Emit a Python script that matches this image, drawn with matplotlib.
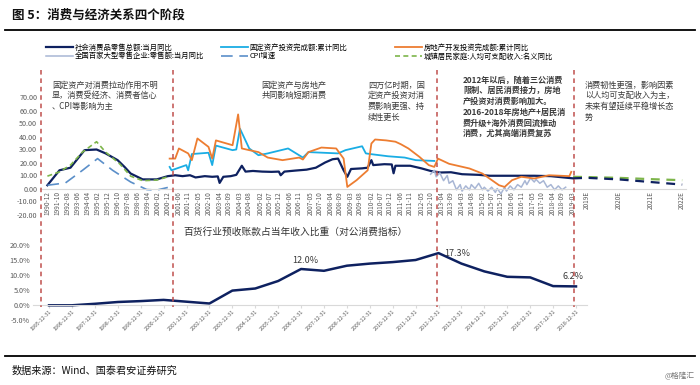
import numpy as np
import matplotlib
matplotlib.use("Agg")
import matplotlib.pyplot as plt
from matplotlib.lines import Line2D

plt.rcParams['font.family'] = ['Noto Sans CJK SC', 'DejaVu Sans']
plt.rcParams['axes.unicode_minus'] = False

# ---- data: top panel (month labels "YYYY-MM", forecast "YYYYE") ----
retail_m = ["1990-12", "1991-12", "1992-11", "1994-01", "1995-01", "1995-10", "1996-10",
            "1997-05", "1997-11", "1998-11", "2000-01", "2000-12",
            "2001-04", "2001-08", "2001-12", "2002-03", "2002-08", "2002-12", "2003-03",
            "2003-04", "2003-06", "2003-10", "2004-01", "2004-04", "2004-06", "2004-10",
            "2005-03", "2005-08", "2005-12", "2006-01", "2006-03", "2006-09", "2007-03",
            "2007-08", "2008-01", "2008-05", "2008-08", "2008-11", "2009-01", "2009-03",
            "2009-09", "2009-12", "2010-02", "2010-03", "2010-09", "2011-01", "2011-02",
            "2011-03", "2011-11", "2012-05", "2012-10", "2013-03", "2013-09", "2014-03",
            "2014-12", "2015-06", "2016-06", "2017-06", "2018-03", "2018-10", "2019-03"]
retail_v = [2.5, 14.0, 16.0, 29.5, 30.0, 27.0, 21.8, 16.5, 11.5, 7.0, 7.0, 9.5,
            10.2, 9.5, 10.2, 8.5, 9.5, 9.0, 9.3, 4.3, 9.0, 9.5, 10.5, 17.5, 13.0, 13.5,
            13.0, 12.8, 13.0, 10.2, 13.0, 13.8, 14.5, 16.0, 20.0, 22.5, 23.0, 14.0, 9.0,
            15.0, 15.5, 16.0, 21.8, 18.0, 18.7, 18.5, 11.7, 17.5, 17.5, 15.5, 13.5, 12.3,
            12.5, 11.0, 10.5, 9.8, 9.8, 9.8, 9.5, 8.5, 7.8]

retail_fc_m = ["2019-03", "2019E", "2020E", "2021E", "2022E"]
retail_fc_v = [7.8, 8.2, 7.0, 5.0, 3.0]

dept_m = ["2012-10", "2012-12", "2013-01", "2013-03", "2013-05", "2013-07", "2013-08",
          "2013-10", "2013-12", "2014-02", "2014-03", "2014-05", "2014-07", "2014-08",
          "2014-10", "2014-12", "2015-02", "2015-03", "2015-05", "2015-07", "2015-09",
          "2015-10", "2015-12", "2016-02", "2016-03", "2016-05", "2016-07", "2016-09",
          "2016-11", "2017-01", "2017-02", "2017-04", "2017-06", "2017-07", "2017-09",
          "2017-11", "2018-01", "2018-03", "2018-05", "2018-07", "2018-09", "2018-11"]
dept_v = [11, 14, 9, 12, 6, 10, 4, 6, -1, 3, -2, 2, -1, 3, 0, 4, -1, 1, -2, 1, -3,
          0, -4, 1, -2, 2, -1, 3, 1, 6, 3, 8, 5, 7, 4, 6, 1, 3, -1, 2, -1, 1]

fai_m = ["2001-01", "2001-02", "2001-10", "2001-11", "2002-01", "2002-10", "2002-12",
         "2003-02", "2003-11", "2004-01", "2004-03", "2004-08", "2005-01", "2005-06",
         "2006-05", "2007-01", "2007-04", "2008-08", "2008-12", "2009-09", "2009-11",
         "2010-02", "2010-11", "2011-08", "2012-02", "2012-12"]
fai_v = [16.6, 14.0, 18.0, 14.0, 26.5, 27.5, 18.0, 33.0, 29.5, 30.0, 46.0, 30.8,
         25.6, 27.0, 30.8, 23.8, 28.0, 27.0, 29.5, 32.5, 27.0, 26.4, 24.8, 23.8,
         21.8, 21.2]

cpi_m = ["1990-12", "1992-06", "1993-11", "1995-02", "1996-05", "1997-11", "1999-03",
         "2000-01", "2000-12"]
cpi_v = [2.5, 4.3, 14.0, 23.0, 14.0, 5.0, -0.8, -1.2, 0.8]

estate_m = ["2001-01", "2001-04", "2001-06", "2001-11", "2002-01", "2002-04", "2002-10",
            "2002-12", "2003-02", "2003-11", "2004-02", "2004-04", "2004-08", "2005-01",
            "2005-06", "2006-02", "2006-11", "2007-01", "2007-04", "2007-11", "2008-07",
            "2008-11", "2009-01", "2009-06", "2009-12", "2010-02", "2010-04", "2010-10",
            "2011-03", "2011-06", "2011-10", "2012-04", "2012-09", "2012-12", "2013-02",
            "2013-08", "2014-07", "2015-02", "2015-11", "2016-02", "2016-06", "2016-11",
            "2017-06", "2018-02", "2019-01", "2019-02"]
estate_v = [23.0, 23.0, 30.8, 27.0, 21.8, 38.5, 32.0, 23.0, 37.0, 33.3, 57.0, 30.8,
            29.5, 28.0, 23.8, 21.8, 23.8, 22.3, 28.0, 31.5, 30.8, 23.0, 1.2, 6.4, 14.0,
            34.6, 37.7, 37.0, 36.0, 34.0, 30.8, 24.3, 18.0, 16.6, 23.0, 19.0, 15.4, 11.5,
            2.5, 1.2, 6.4, 9.0, 7.7, 10.2, 9.5, 12.8]

income_m = ["1990-12", "1991-12", "1992-11", "1993-11", "1995-01", "1995-10", "1996-12",
            "1997-11", "1998-11", "2000-01", "2000-12"]
income_v = [9.5, 12.8, 18.0, 28.0, 36.0, 28.0, 19.0, 9.5, 6.0, 6.5, 9.0]

income_fc_m = ["2019-03", "2019E", "2020E", "2021E", "2022E"]
income_fc_v = [9.0, 8.8, 8.2, 7.2, 6.4]

top_ticks = ["1990-12", "1991-10", "1992-08", "1993-06", "1994-04", "1995-02", "1995-12",
             "1996-10", "1997-08", "1998-06", "1999-04", "2000-02", "2000-12",
             "2001-06", "2001-11", "2002-05", "2002-10", "2003-04", "2003-09", "2004-03",
             "2004-08", "2005-02", "2005-07", "2005-12", "2006-06", "2006-11", "2007-05",
             "2007-10", "2008-04", "2008-09", "2009-03", "2009-08", "2010-02", "2010-07",
             "2010-12", "2011-06", "2011-11", "2012-05", "2012-10", "2013-04", "2013-09",
             "2014-03", "2014-08", "2015-02", "2015-07", "2015-12", "2016-06", "2016-11",
             "2017-05", "2017-10", "2018-04", "2018-09", "2019-03",
             "2019E", "2020E", "2021E", "2022E"]

# ---- data: bottom panel ----
dept_years = list(range(1995, 2019))
advance_ratio = [-0.1, -0.1, 0.4, 1.0, 1.3, 1.7, 1.1, 0.5, 4.8, 5.5, 8.0, 12.0, 11.4,
                 13.1, 13.8, 14.3, 15.0, 17.3, 13.8, 11.2, 9.4, 9.2, 6.3, 6.2]
ratio_labels = {2006: "12.0%", 2012: "17.3%", 2018: "6.2%"}


def to_year(s):
    if s.endswith("E"):
        return int(s[:4]) + 0.75
    y, m = s.split("-")
    return int(y) + (int(m) - 1) / 12


# the source axis is a category axis: monthly spacing changes after 2000-12
knot_yr = [1980.0, 1990.917, 2000.917, 2019.167, 2019.75, 2022.75, 2040.0]
knot_px = [47.7 - 10.917 * 12, 47.7, 168.0, 573.0, 587.0, 682.0, 682.0 + 17.25 * 31.7]


def fwd(x):
    return np.interp(x, knot_yr, knot_px)


def inv(p):
    return np.interp(p, knot_px, knot_yr)


def box(l, t, r, b):
    return [l / 700, 1 - b / 385, (r - l) / 700, (b - t) / 385]


navy = "#0E2160"
grayblue = "#A8B6D4"
skyblue = "#1AADE4"
cpiblue = "#5B8FC9"
orange = "#ED7D31"
green = "#7DB54A"
txt = "#3A3A3A"
tick_c = "#595959"
red = "#C0504D"

fig = plt.figure(figsize=(7, 3.85), dpi=100)

# ---------------- top panel ----------------
ax1 = fig.add_axes(box(40, 87.1, 686, 217.1))
ax1.set_xscale('function', functions=(fwd, inv))
for sp in ["top", "right", "left"]:
    ax1.spines[sp].set_visible(False)
ax1.spines["bottom"].set_position(("data", 0))
ax1.spines["bottom"].set_color("#D9D9D9")
ax1.patch.set_alpha(0)

h1, = ax1.plot([to_year(s) for s in retail_m], retail_v, color=navy, lw=1.6,
               label="社会消费品零售总额:当月同比")
h2, = ax1.plot([to_year(s) for s in dept_m], dept_v, color=grayblue, lw=1.1,
               label="全国百家大型零售企业:零售额:当月同比")
h3, = ax1.plot([to_year(s) for s in fai_m], fai_v, color=skyblue, lw=1.3,
               label="固定资产投资完成额:累计同比")
h4, = ax1.plot([to_year(s) for s in cpi_m], cpi_v, color=cpiblue, lw=1.2,
               ls=(0, (7, 4)), label="CPI增速")
h5, = ax1.plot([to_year(s) for s in estate_m], estate_v, color=orange, lw=1.3,
               label="房地产开发投资完成额:累计同比")
h6, = ax1.plot([to_year(s) for s in income_m], income_v, color=green, lw=1.2,
               ls=(0, (3, 2)), label="城镇居民家庭:人均可支配收入:名义同比")
ax1.plot([to_year(s) for s in income_fc_m], income_fc_v, color=green, lw=1.6, ls=(0, (4, 3)))
ax1.plot([to_year(s) for s in retail_fc_m], retail_fc_v, color=navy, lw=1.6,
         ls=(0, (4, 3)), zorder=3)

ax1.set_xlim(1990.3, 2022.87)
ax1.set_ylim(-22, 78)
ax1.set_yticks(np.arange(-20, 71, 10))
ax1.set_yticklabels(["%.2f" % v for v in np.arange(-20, 71, 10)])
ax1.set_xticks([to_year(s) for s in top_ticks])
ax1.set_xticklabels(top_ticks)
ax1.tick_params(axis='x', length=0, labelsize=4.6, colors=tick_c, pad=2, labelrotation=90)
ax1.tick_params(axis='y', length=0, labelsize=5.2, colors=tick_c, pad=2)

# legend: three columns at the source positions
cols = [([h1, h2], 46), ([h3, h4], 221), ([h5, h6], 395)]
for hs, xl in cols:
    fig.legend(handles=hs, loc="upper left", bbox_to_anchor=(xl / 700, 1 - 44 / 385),
               frameon=False, fontsize=5.3, handlelength=3.6, handletextpad=0.3,
               labelspacing=0.05, borderaxespad=0, borderpad=0)

# ---------------- bottom panel ----------------
ax2 = fig.add_axes(box(33, 239, 587, 323))
for sp in ["top", "right", "left"]:
    ax2.spines[sp].set_visible(False)
ax2.spines["bottom"].set_position(("data", 0))
ax2.spines["bottom"].set_color("#D9D9D9")
ax2.patch.set_alpha(0)

ax2.plot(dept_years, advance_ratio, color=navy, lw=1.8)
ax2.set_xlim(1994.3, 2018.48)
ax2.set_ylim(-6, 22)
ax2.set_yticks([-5, 0, 5, 10, 15, 20])
ax2.set_yticklabels(["%.1f%%" % v for v in [-5, 0, 5, 10, 15, 20]])
ax2.set_xticks(dept_years)
ax2.set_xticklabels(["%d-12-31" % y for y in dept_years])
ax2.tick_params(axis='x', length=2, color="#D9D9D9", labelsize=3.8, colors=tick_c, pad=1,
                labelrotation=45)
ax2.tick_params(axis='y', length=0, labelsize=5.2, colors=tick_c, pad=2)
for lab in ax2.get_xticklabels():
    lab.set_ha("right")
    lab.set_rotation_mode("anchor")

for yr, lab in ratio_labels.items():
    v = advance_ratio[dept_years.index(yr)]
    if yr == 2012:
        ax2.annotate(lab, (yr, v), xytext=(4, 0), textcoords="offset points",
                     fontsize=6.5, color=txt, va="center", ha="left")
    elif yr == 2018:
        ax2.annotate(lab, (yr, v), xytext=(-2, 4), textcoords="offset points",
                     fontsize=6.5, color=txt, va="bottom", ha="center")
    else:
        ax2.annotate(lab, (yr, v), xytext=(3, 3), textcoords="offset points",
                     fontsize=6.5, color=txt, va="bottom", ha="center")

fig.text(295 / 700, 1 - 232 / 385, "百货行业预收账款占当年收入比重（对公消费指标）",
         fontsize=7, color="#333333", ha="center", va="center")

# ---------------- phase separators ----------------
for xp in [40.7, 173.0, 437.0, 574.0]:
    fig.add_artist(Line2D([xp / 700, xp / 700], [1 - 70 / 385, 1 - 307 / 385],
                          color=red, lw=1.1, ls=(0, (3, 2.5))))

notes = [
    (52, 80.5, "left", False, "固定资产对消费拉动作用不明\n显，消费受经济、消费者信心\n、CPI等影响为主"),
    (294, 80.5, "center", False, "固定资产与房地产\n共同影响短期消费"),
    (368, 80.5, "left", False, "四万亿时期，固\n定资产投资对消\n费影响更强、持\n续性更长"),
    (463, 75.5, "left", True, "2012年以后，随着三公消费\n限制、居民消费接力，房地\n产投资对消费影响加大。\n"
                             "2016-2018年房地产+居民消\n费升级+海外消费回流推动\n消费，尤其高端消费复苏"),
    (585, 80.5, "left", False, "消费韧性更强，影响因素\n以人均可支配收入为主，\n未来有望延续平稳增长态\n势"),
]
for x, y, ha, bold, s in notes:
    fig.text(x / 700, 1 - y / 385, s, fontsize=5.9, color=txt, ha=ha, va="top",
             linespacing=1.25, fontweight="bold" if bold else "normal",
             multialignment="left")

# ---------------- title & footer ----------------
fig.text(12 / 700, 1 - 15 / 385, "图 5：消费与经济关系四个阶段", fontsize=9,
         fontweight="bold", color="#111111", ha="left", va="center")
fig.add_artist(Line2D([5 / 700, 695 / 700], [1 - 30 / 385, 1 - 30 / 385], color="black", lw=1.3))
fig.add_artist(Line2D([5 / 700, 695 / 700], [1 - 356 / 385, 1 - 356 / 385], color="black", lw=1.3))
fig.text(12 / 700, 1 - 371 / 385, "数据来源：Wind、国泰君安证券研究", fontsize=7.3,
         color="#111111", ha="left", va="center")
fig.text(695 / 700, 1 - 376 / 385, "@格隆汇", fontsize=5.5, color="#777777",
         ha="right", va="center")

fig.savefig("out.png", dpi=100)
